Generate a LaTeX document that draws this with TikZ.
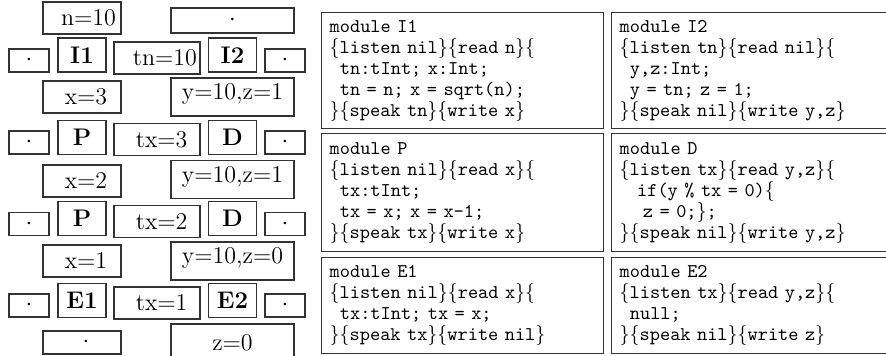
\documentclass[tikz,border=0pt]{standalone}
\usepackage{tikz}
\newcommand{\indt}{\hspace*{0.525em}}
\newcommand{\obr}{$\{$}
\newcommand{\cbr}{$\}$}

\tikzset{
  cell/.style={draw=black!80, line width=0.6pt, inner sep=0pt, font=\fontsize{12}{14}\selectfont},
  dotcell/.style={cell, minimum width=20pt, minimum height=11.5pt},
  modcell/.style={cell, minimum width=24pt, minimum height=17pt, font=\fontsize{12}{14}\selectfont\bfseries},
  varcell/.style={cell, minimum width=39pt, minimum height=16pt, execute at begin node={\hspace*{#1}}},
  varcell/.default=4pt,
  chancell/.style={cell, minimum width=43pt, minimum height=16pt, execute at begin node={\hspace*{#1}}},
  chancell/.default=4.7pt,
  outcell/.style={cell, minimum width=61.5pt, minimum height=19pt},
  pairtext/.style={text depth=5pt},
  codebox/.style={draw=black!80, line width=0.7pt, anchor=north west, align=left,
    inner xsep=4pt, inner ysep=0pt, text width=133pt, font=\fontsize{9.7}{10.5}\ttfamily},
}

\begin{document}
\begin{tikzpicture}[x=0.5pt, y=-0.5pt]
        \useasboundingbox (0,0) rectangle (886,356);

        % trace of the run
        \node[varcell=6.5pt] (n10) at (82,18) {n=10};
        \node[outcell, minimum height=12.5pt] (yz0) at (232.5,20.5) {$\cdot$};

        \node[dotcell] (la) at (29,60.5) {$\cdot$};
        \node[modcell] (mI1) at (82,55) {I1};
        \node[chancell=8pt] (tn10) at (157,58) {tn=10};
        \node[modcell] (mI2) at (232.5,55) {I2};
        \node[dotcell] (ra) at (285,60.5) {$\cdot$};

        \node[varcell] (x3) at (82,97) {x=3};
        \node[outcell, pairtext] (yz1) at (232.5,97) {y=10,z=1};

        \node[dotcell] (lb) at (29,142.5) {$\cdot$};
        \node[modcell] (mP1) at (82,137.5) {P};
        \node[chancell] (tx3) at (157,139.5) {tx=3};
        \node[modcell] (mD1) at (232.5,137.5) {D};
        \node[dotcell] (rb) at (285,142.5) {$\cdot$};

        \node[varcell] (x2) at (82,181) {x=2};
        \node[outcell, pairtext] (yz2) at (232.5,179.5) {y=10,z=1};

        \node[dotcell] (lc) at (29,224) {$\cdot$};
        \node[modcell] (mP2) at (82,218.5) {P};
        \node[chancell] (tx2) at (157,221.5) {tx=2};
        \node[modcell] (mD2) at (232.5,218.5) {D};
        \node[dotcell] (rc) at (285,224) {$\cdot$};

        \node[varcell] (x1) at (82,261) {x=1};
        \node[outcell, pairtext] (yz3) at (232.5,261) {y=10,z=0};

        \node[dotcell] (ld) at (29,305.5) {$\cdot$};
        \node[modcell] (mE1) at (82,300.5) {E1};
        \node[chancell] (tx1) at (157,303) {tx=1};
        \node[modcell] (mE2) at (232.5,300.5) {E2};
        \node[dotcell] (rd) at (285,305.5) {$\cdot$};

        \node[varcell, minimum height=11.5pt] (xend) at (82,342.5) {$\cdot$};
        \node[outcell] (zend) at (232.5,343) {z=0};

        % module code
        \node[codebox, minimum height=58pt] (cI1) at (321,12) {module I1\\
          \obr listen nil\cbr\obr read n\cbr\obr\\
          \indt tn:tInt; x:Int;\\
          \indt tn = n; x = sqrt(n);\\
          \cbr\obr speak tn\cbr\obr write x\cbr};
        \node[codebox, minimum height=58pt] (cI2) at (611,12) {module I2\\
          \obr listen tn\cbr\obr read nil\cbr\obr\\
          \indt y,z:Int;\\
          \indt y = tn; z = 1;\\
          \cbr\obr speak nil\cbr\obr write y,z\cbr};
        \node[codebox, minimum height=59pt] (cP) at (321,133) {module P\\
          \obr listen nil\cbr\obr read x\cbr\obr\\
          \indt tx:tInt;\\
          \indt tx = x; x = x-1;\\
          \cbr\obr speak tx\cbr\obr write x\cbr};
        \node[codebox, minimum height=59pt] (cD) at (611,133) {module D\\
          \obr listen tx\cbr\obr read y,z\cbr\obr\\
          \hspace*{0.9em}if(y \% tx = 0)\obr\\
          \hspace*{1.2em}z = 0;\cbr;\\
          \cbr\obr speak nil\cbr\obr write y,z\cbr};
        \node[codebox, minimum height=48pt] (cE1) at (321,257) {module E1\\
          \obr listen nil\cbr\obr read x\cbr\obr\\
          \indt tx:tInt; tx = x;\\
          \cbr\obr speak tx\cbr\obr write nil\cbr};
        \node[codebox, minimum height=48pt] (cE2) at (611,257) {module E2\\
          \obr listen tx\cbr\obr read y,z\cbr\obr\\
          \indt null;\\
          \cbr\obr speak nil\cbr\obr write z\cbr};
      \end{tikzpicture}
\end{document}
